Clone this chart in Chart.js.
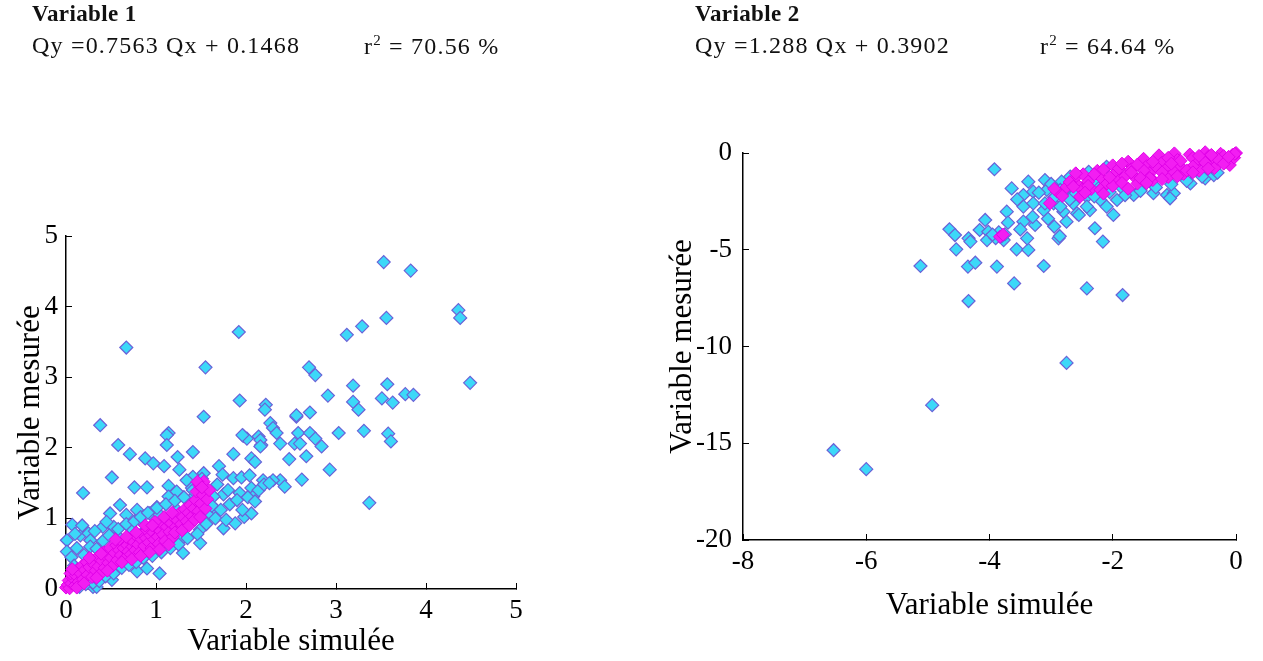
<!DOCTYPE html>
<html>
<head>
<meta charset="utf-8">
<script src="https://cdn.jsdelivr.net/npm/chart.js@4.4.1/dist/chart.umd.min.js"></script>
<style>
  body { margin: 0; background: #fff; width: 1263px; height: 661px; overflow: hidden; position: relative;
         font-family: 'Liberation Serif', 'Times New Roman', serif; color: #111; }
  .box { position: absolute; top: 0; height: 661px; }
  .t { position: absolute; white-space: nowrap; z-index: 2; }
  .h { font-size: 23px; font-weight: bold; letter-spacing: 0.4px; }
  .q { font-size: 24px; letter-spacing: 1.2px; }
  .q sup { font-size: 15px; }
</style>
</head>
<body>
<div class="t h" style="left:32px;top:1px">Variable 1</div>
<div class="t q" style="left:32px;top:32px">Qy =0.7563 Qx + 0.1468</div>
<div class="t q" style="left:364px;top:32px">r<sup>2</sup> = 70.56 %</div>
<div class="t h" style="left:695px;top:1px">Variable 2</div>
<div class="t q" style="left:695px;top:32px">Qy =1.288 Qx + 0.3902</div>
<div class="t q" style="left:1040px;top:32px">r<sup>2</sup> = 64.64 %</div>

<div class="box" style="left:0;width:560px"><canvas id="g1"></canvas></div>
<div class="box" style="left:600px;width:663px"><canvas id="g2"></canvas></div>

<script>
// Variable 1 : [simulée, mesurée], points drawn light blue
const var1Points = [
  [3.53,4.63],[3.83,4.51],[4.36,3.95],[4.38,3.84],[4.49,2.92],[1.92,3.64],[3.12,3.60],[3.29,3.72],
  [3.56,3.84],[1.55,3.14],[0.67,3.42],[2.70,3.14],[2.77,3.03],[1.93,2.67],[1.53,2.44],[2.22,2.61],
  [2.21,2.54],[2.91,2.74],[3.19,2.88],[3.19,2.65],[3.25,2.54],[3.57,2.90],[3.51,2.70],[3.63,2.64],
  [3.77,2.76],[3.86,2.75],[2.56,2.44],[2.71,2.50],[3.03,2.21],[3.31,2.24],[3.58,2.20],[3.61,2.09],
  [2.27,2.35],[2.30,2.28],[2.34,2.21],[2.38,2.06],[2.58,2.21],[2.54,2.06],[2.71,2.21],[2.77,2.13],
  [2.84,2.02],[1.97,2.17],[2.01,2.13],[2.14,2.16],[2.17,2.04],[1.41,1.94],[1.86,1.91],[2.06,1.85],
  [2.10,1.80],[2.48,1.84],[2.67,1.88],[1.70,1.74],[2.93,1.69],[3.37,1.22],[2.62,1.55],[2.38,1.54],
  [2.43,1.45],[0.38,2.32],[0.58,2.04],[1.14,2.21],[0.71,1.91],[0.88,1.85],[0.97,1.78],[1.09,1.74],
  [1.12,2.18],[1.12,2.04],[1.24,1.87],[1.26,1.69],[1.96,2.18],[2.16,2.11],[2.16,2.02],[2.60,2.06],
  [2.56,2.46],[0.51,1.58],[0.19,1.36],[0.76,1.44],[0.90,1.44],[1.14,1.46],[1.23,1.38],[1.14,1.31],
  [1.75,1.34],[1.86,1.57],[1.95,1.58],[2.04,1.61],[2.06,1.43],[2.08,1.31],[2.19,1.54],[2.30,1.54],
  [1.93,1.36],[1.98,1.02],[2.06,1.07],[1.88,0.93],[1.75,0.86],[0.60,1.19],[0.07,0.91],[0.16,0.76],
  [0.01,0.69],[0.01,0.53],[0.79,0.25],[0.90,0.29],[1.04,0.22],[0.51,0.13],[0.30,0.03],[0.34,0.03],
  [1.30,0.51],[1.49,0.65],
  [0.25,0.79],[0.27,0.69],[0.41,0.88],[0.49,1.07],[0.53,0.88],[0.58,0.74],[0.67,1.05],[0.71,0.88],
  [0.79,1.12],[0.82,0.98],[0.86,0.81],[0.93,1.07],[1.01,1.16],[1.04,1.05],[1.08,0.88],[1.12,0.79],
  [1.16,0.98],[1.23,1.12],[1.27,0.69],[1.30,0.88],[1.34,1.12],[1.38,1.26],[1.45,1.36],[1.49,0.84],
  [1.56,1.21],[1.60,1.07],[1.64,1.31],[1.67,1.12],[1.41,1.59],[1.45,1.45],[1.53,1.64],[1.34,1.54],
  [1.40,1.43],
  [0.06,0.45],[0.09,0.33],[0.12,0.58],[0.15,0.03],[0.20,0.48],[0.22,0.07],[0.27,0.60],[0.30,0.09],
  [0.34,0.57],[0.37,0.11],[0.41,0.68],[0.44,0.18],[0.48,0.76],[0.53,0.22],[0.58,0.85],[0.62,0.30],
  [0.67,0.92],[0.70,0.34],[0.76,0.96],[0.78,0.38],[0.83,1.02],[0.86,0.44],[0.91,1.08],[0.96,0.47],
  [1.01,1.15],[1.06,0.52],[1.11,1.20],[1.16,0.58],[1.21,1.25],[1.25,0.63],[1.31,1.30],[1.35,0.72],
  [1.41,1.40],[1.46,0.78],[1.51,1.56],[1.56,0.92],[1.62,1.18],[1.66,1.00],[1.72,1.12],[1.78,0.98],
  [1.82,1.20],[1.90,1.26],[1.96,1.12],[2.02,1.30],[2.10,1.24],[2.14,1.40],[2.20,1.48],[2.26,1.50],
  [1.68,1.48],[1.74,1.62],[1.80,1.40],[0.18,0.90],[0.32,0.82],[0.45,0.95],[0.10,0.78]
];

// Variable 1 : dense core, drawn magenta
const var1Core = [
  [0.00,0.02],[0.02,0.06],[0.04,0.01],[0.03,0.12],[0.06,0.08],[0.08,0.15],[0.05,0.22],[0.10,0.05],
  [0.11,0.19],[0.13,0.28],[0.14,0.10],[0.16,0.22],[0.18,0.33],[0.19,0.14],[0.21,0.27],[0.23,0.38],
  [0.24,0.20],[0.26,0.31],[0.28,0.42],[0.29,0.17],[0.31,0.35],[0.33,0.26],[0.35,0.45],[0.36,0.32],
  [0.38,0.21],[0.40,0.40],[0.42,0.52],[0.43,0.30],[0.45,0.46],[0.47,0.37],[0.49,0.58],[0.50,0.44],
  [0.52,0.33],[0.54,0.51],[0.56,0.62],[0.57,0.41],[0.59,0.55],[0.61,0.48],[0.63,0.66],[0.64,0.58],
  [0.66,0.44],[0.68,0.62],[0.69,0.53],[0.71,0.70],[0.72,0.49],[0.74,0.60],[0.75,0.67],[0.77,0.55],
  [0.79,0.74],[0.80,0.63],[0.82,0.52],[0.84,0.70],[0.85,0.78],[0.87,0.61],[0.89,0.72],[0.90,0.83],
  [0.92,0.66],[0.94,0.76],[0.95,0.58],[0.97,0.80],[0.98,0.70],[1.00,0.87],[1.02,0.74],[1.03,0.64],
  [1.05,0.82],[1.07,0.92],[1.08,0.77],[1.10,0.68],[1.12,0.88],[1.13,0.97],[1.15,0.81],[1.17,0.93],
  [1.19,0.74],[1.20,1.01],[1.22,0.88],[1.24,0.97],[1.26,1.07],[1.28,0.92],[1.30,1.02],[1.32,1.13],
  [1.34,0.96],[1.36,1.08],[1.38,1.19],[1.40,1.03],[1.42,1.14],[1.44,1.26],[1.45,1.38],[1.47,1.10],
  [1.48,1.47],[1.50,1.21],[1.52,1.33],[1.53,1.52],[1.55,1.14],[1.57,1.27],[1.59,1.40],
  [0.07,0.28],[0.12,0.02],[0.20,0.08],[0.26,0.44],[0.34,0.16],[0.39,0.50],[0.46,0.26],[0.55,0.70],
  [0.62,0.38],[0.67,0.74],[0.73,0.42],[0.78,0.80],[0.83,0.47],[0.88,0.90],[0.93,0.52],[0.99,0.95],
  [1.04,0.56],[1.09,1.02],[1.14,0.63],[1.21,0.80],[1.29,0.83],[1.37,0.90],[1.43,0.98],[1.49,1.02],
  [1.46,1.52],[1.51,1.44],[1.18,1.08],[0.96,0.90]
];

// Variable 2 : [simulée, mesurée], points drawn light blue
const var2Points = [
  [-6.53,-15.36],[-6.00,-16.34],[-4.93,-13.03],[-2.75,-10.85],[-5.12,-5.84],[-4.34,-7.65],[-3.60,-6.74],
  [-2.42,-7.00],[-1.84,-7.34],[-3.92,-0.84],[-4.35,-5.87],[-4.23,-5.67],[-3.88,-5.87],[-3.12,-5.84],
  [-4.65,-3.94],[-4.56,-4.24],[-4.54,-4.98],[-4.34,-4.41],[-4.31,-4.58],[-4.07,-3.46],[-4.16,-3.98],
  [-4.02,-4.07],[-3.83,-4.24],[-3.77,-4.50],[-4.04,-4.50],[-3.72,-3.03],[-3.56,-4.98],[-3.37,-5.01],
  [-3.39,-4.41],[-3.45,-3.55],[-3.26,-3.72],[-2.88,-4.41],[-2.86,-4.30],[-2.75,-3.55],[-2.29,-3.89],
  [-2.16,-4.58],[-1.99,-3.20],[-3.64,-1.83],[-3.37,-1.48],[-3.10,-1.40],[-3.45,-2.17],[-3.29,-2.00],
  [-3.07,-1.91],[-3.45,-2.77],[-3.29,-2.60],[-3.12,-2.95],[-2.96,-2.60],[-2.83,-1.48],[-2.69,-1.22],
  [-2.39,-0.97],[-2.58,-1.83],[-2.42,-2.26],[-2.31,-1.57],[-2.10,-0.71],[-2.20,-2.43],[-2.10,-2.77],
  [-2.37,-2.95],[-2.58,-3.12],[-2.80,-3.03],[-2.55,-3.20],[-2.85,-2.77],[-2.64,-2.60],[-2.42,-2.77],
  [-2.85,-1.91],[-2.64,-2.08],[-2.31,-1.40],[-2.10,-1.91],[-1.93,-2.43],[-1.66,-2.17],[-1.55,-1.91],
  [-1.34,-2.08],[-1.12,-2.17],[-1.01,-2.08],[-1.07,-2.34],[-0.74,-1.57],[-0.50,-1.31],[-0.36,-1.14],
  [-3.80,-4.30],[-3.85,-4.10],[-3.90,-4.40],[-3.75,-4.20],[-3.95,-4.22],[-3.20,-2.05],[-3.00,-1.60],
  [-2.95,-2.30],[-2.78,-1.92],[-2.70,-2.40],[-3.10,-2.60],[-3.55,-2.40],[-3.70,-3.60],[-3.50,-3.95],
  [-2.60,-2.08],[-2.30,-2.24],[-2.05,-2.02],[-1.85,-1.80],[-1.80,-2.18],[-1.55,-1.96],[-1.30,-1.78],
  [-1.05,-1.62],[-0.80,-1.44],[-0.55,-1.22],[-0.30,-1.02],[-3.30,-3.30],[-3.05,-3.40],[-2.95,-3.80]
];

// Variable 2 : dense core, drawn magenta
const var2Core = [
  [-2.62,-1.32],[-2.55,-1.72],[-2.48,-1.10],[-2.40,-1.48],[-2.35,-1.86],[-2.25,-0.92],[-2.18,-1.30],
  [-2.12,-1.66],[-2.00,-0.64],[-1.95,-1.02],[-1.90,-1.42],[-1.75,-0.45],[-1.70,-0.84],[-1.65,-1.22],
  [-1.60,-1.58],[-1.50,-0.30],[-1.45,-0.68],[-1.40,-1.05],[-1.35,-1.40],[-1.25,-0.12],[-1.20,-0.50],
  [-1.15,-0.88],[-1.10,-1.24],[-1.00,-0.02],[-0.95,-0.36],[-0.90,-0.72],[-0.85,-1.08],[-0.75,-0.08],
  [-0.70,-0.26],[-0.65,-0.58],[-0.60,-0.92],[-0.50,0.04],[-0.45,-0.20],[-0.40,-0.46],[-0.35,-0.78],
  [-0.25,-0.04],[-0.20,-0.16],[-0.15,-0.38],[-0.10,-0.62],[-0.06,-0.10],[-0.03,-0.24],[0.00,0.00],
  [-0.02,-0.04],[-2.90,-2.00],[-2.75,-1.75],[-2.70,-1.50],[-2.50,-1.90],[-2.20,-1.90],[-2.00,-1.70],
  [-1.80,-1.20],[-1.70,-1.00],[-1.50,-0.90],[-1.30,-0.70],[-1.20,-1.00],[-0.90,-0.40],[-0.70,-0.70],
  [-0.50,-0.50],[-0.30,-0.30],[-0.20,-0.55],[-0.12,-0.20],[-1.60,-0.60],[-1.90,-0.80],[-2.30,-1.10],
  [-2.40,-1.70],[-1.40,-1.30],[-1.00,-1.00],[-0.80,-0.90],[-0.40,-0.10],[-0.60,-0.15],[-1.10,-0.25],
  [-1.35,-0.45],[-1.55,-1.30],[-2.05,-1.25],[-3.83,-4.33],[-3.78,-4.22],[-2.64,-1.74],[-3.02,-2.60],
  [-2.53,-2.26],[-2.82,-2.22],[-2.95,-1.85],[-2.45,-2.05],[-2.15,-2.10],[-1.85,-1.55],[-1.75,-1.85],
  [-1.45,-1.55],[-1.20,-1.35],[-0.95,-1.20],[-0.70,-1.00],[-0.45,-0.80],[-1.05,-0.55],[-1.85,-0.55],
  [-2.15,-0.85],[-2.60,-1.05]
];

const ticks1X = [0, 1, 2, 3, 4, 5];
const ticks1Y = [0, 1, 2, 3, 4, 5];
const ticks2X = [-8, -6, -4, -2, 0];
const ticks2Y = [-20, -15, -10, -5, 0];

const xTitle = 'Variable simulée';
const yTitle = 'Variable mesurée';

const serif = "'Liberation Serif', 'Times New Roman', serif";

const toXY = pts => pts.map(p => ({ x: p[0], y: p[1] }));

function makeChart(id, points, core, tx, ty, lay) {
  const ctx = document.getElementById(id);
  const common = { pointStyle: 'rectRot', pointRadius: 6.5, pointHoverRadius: 6.5, clip: false };
  return new Chart(ctx, {
    type: 'scatter',
    data: {
      datasets: [
        Object.assign({ data: toXY(core), backgroundColor: '#f21ef2', borderColor: '#e000e8', borderWidth: 1, order: 1 }, common),
        Object.assign({ data: toXY(points), backgroundColor: '#3cd8f8', borderColor: '#6a62d8', borderWidth: 1.2, order: 2 }, common)
      ]
    },
    options: {
      responsive: true,
      maintainAspectRatio: false,
      animation: false,
      events: [],
      layout: { padding: lay.padding },
      plugins: { legend: { display: false }, tooltip: { enabled: false } },
      scales: {
        x: {
          type: 'linear',
          min: tx[0], max: tx[tx.length - 1],
          afterBuildTicks: s => { s.ticks = tx.map(v => ({ value: v })); },
          afterFit: s => { s.height = lay.xh; },
          ticks: { font: { family: serif, size: 27 }, color: '#000', padding: lay.xpad, maxRotation: 0 },
          grid: { drawOnChartArea: false, drawTicks: true, tickLength: -6, color: '#000', lineWidth: 1 },
          border: { display: true, color: '#000', width: 1.5 },
          title: { display: true, text: xTitle, color: '#000', font: { family: serif, size: 31 },
                   padding: { top: 0, bottom: lay.xtp } }
        },
        y: {
          type: 'linear',
          min: ty[0], max: ty[ty.length - 1],
          afterBuildTicks: s => { s.ticks = ty.map(v => ({ value: v })); },
          afterFit: s => { s.width = lay.yw; },
          ticks: { font: { family: serif, size: 27 }, color: '#000', padding: lay.ypad },
          grid: { drawOnChartArea: false, drawTicks: true, tickLength: -6, color: '#000', lineWidth: 1 },
          border: { display: true, color: '#000', width: 1.5 },
          title: { display: true, text: yTitle, color: '#000', font: { family: serif, size: 31 },
                   padding: { top: lay.ytp, bottom: 0 } }
        }
      }
    }
  });
}

makeChart('g1', var1Points, var1Core, ticks1X, ticks1Y,
  { padding: { left: 0, right: 44, top: 236, bottom: 0 }, xh: 72, yw: 66, xpad: 12, ypad: 14, xtp: 1, ytp: 12 });
makeChart('g2', var2Points, var2Core, ticks2X, ticks2Y,
  { padding: { left: 0, right: 27, top: 153, bottom: 0 }, xh: 121, yw: 143, xpad: 12, ypad: 17, xtp: 37, ytp: 64 });
</script>
</body>
</html>
